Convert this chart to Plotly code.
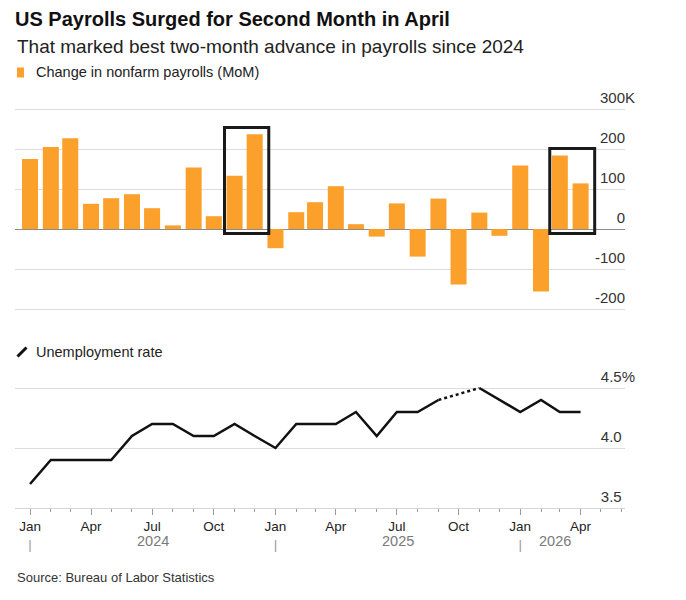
import pandas as pd
import plotly.graph_objects as go

# ---------------- data ----------------
months = pd.date_range("2024-01-01", periods=28, freq="MS")
payrolls_k = [175, 205, 227, 63, 77, 87, 52, 9, 154, 32, 133, 237,
              -48, 42, 67, 107, 12, -19, 64, -69, 76, -139, 41, -17,
              159, -156, 184, 114]
unemployment = [3.7, 3.9, 3.9, 3.9, 3.9, 4.1, 4.2, 4.2, 4.1, 4.1, 4.2, 4.1,
                4.0, 4.2, 4.2, 4.2, 4.3, 4.1, 4.3, 4.3, 4.4, None, 4.5, 4.4,
                4.3, 4.4, 4.3, 4.3]
highlight_pairs = [("2024-11-01", "2024-12-01"), ("2026-03-01", "2026-04-01")]
payroll_ticks = [-200, -100, 0, 100, 200, 300]
payroll_tick_text = ["-200", "-100", "0", "100", "200", "300"]
payroll_suffix = "K"
rate_ticks = [3.5, 4.0, 4.5]
rate_tick_text = ["3.5", "4.0", "4.5"]
rate_suffix = "%"
month_ticks = pd.date_range("2024-01-01", "2026-04-01", freq="QS")

TITLE = "US Payrolls Surged for Second Month in April"
SUBTITLE = "That marked best two-month advance in payrolls since 2024"
LEG_BARS = "Change in nonfarm payrolls (MoM)"
LEG_LINE = "Unemployment rate"
SOURCE = "Source: Bureau of Labor Statistics"

# ---------------- style ----------------
W, H = 686, 600
PAD = 3  # px of padding around the top panel so its end gridlines are drawn
ML, MR, MT, MB = 15, 61, 109 - PAD, 92
ORANGE = "#FCA02C"
FONT = "Liberation Sans, Arial, Helvetica, sans-serif"
GRID = "#dcdcdc"


def px_x(x):
    return (x - ML) / (W - ML - MR)


def px_y(y):
    return (H - MB - y) / (H - MT - MB)


def with_suffix(labels, suffix):
    out = []
    for i, t in enumerate(labels):
        if i == len(labels) - 1:
            out.append(t + suffix)
        else:
            out.append(t + "<span style='color:rgba(0,0,0,0)'>" + suffix + "</span>")
    return out


x_start = pd.Timestamp("2023-12-09 14:00")
x_end = pd.Timestamp("2026-06-06 05:00")
bar_width_ms = 23.9 * 86400000

fig = go.Figure()

fig.add_trace(go.Bar(x=months, y=payrolls_k, marker_color=ORANGE,
                     marker_line_width=0, width=bar_width_ms,
                     xaxis="x", yaxis="y", showlegend=False))

fig.add_trace(go.Scatter(x=months, y=unemployment, mode="lines",
                         line=dict(color="#111111", width=2.5),
                         connectgaps=False, xaxis="x2", yaxis="y2",
                         showlegend=False))

# dotted bridge across missing months
gap_x, gap_y = [], []
for i, v in enumerate(unemployment):
    if v is None:
        j = i - 1
        k = i + 1
        while unemployment[k] is None:
            k += 1
        gap_x += [months[j], months[k], None]
        gap_y += [unemployment[j], unemployment[k], None]
fig.add_trace(go.Scatter(x=gap_x, y=gap_y, mode="lines",
                         line=dict(color="#111111", width=2.5, dash="dot"),
                         xaxis="x2", yaxis="y2", showlegend=False))

shapes = []
vals = dict(zip(months, payrolls_k))
for a, b in highlight_pairs:
    ta, tb = pd.Timestamp(a), pd.Timestamp(b)
    top = max(vals[ta], vals[tb])
    shapes.append(dict(type="rect", xref="x", yref="y",
                       x0=ta - pd.Timedelta(days=15), x1=tb + pd.Timedelta(days=21),
                       y0=-11, y1=top + 17,
                       line=dict(color="#1a1a1a", width=3), fillcolor="rgba(0,0,0,0)"))

# legend icons
shapes.append(dict(type="rect", xref="paper", yref="paper",
                   x0=px_x(17), x1=px_x(24), y0=px_y(77.5), y1=px_y(67.5),
                   line=dict(width=0), fillcolor=ORANGE))
shapes.append(dict(type="line", xref="paper", yref="paper",
                   x0=px_x(17.5), x1=px_x(26.5), y0=px_y(356.5), y1=px_y(347.5),
                   line=dict(color="#111111", width=3)))

month_text = []
for d in month_ticks:
    lab = d.strftime("%b")
    if d.month == 1:
        lab += "<br><span style='color:#9a9a9a'>|</span>"
    month_text.append(lab)

annotations = [
    dict(text=SUBTITLE, x=0, y=px_y(46), xref="paper", yref="paper",
         xanchor="left", yanchor="middle", showarrow=False,
         font=dict(size=19, color="#222222", family=FONT)),
    dict(text=LEG_BARS, x=px_x(34), y=px_y(72), xref="paper", yref="paper",
         xanchor="left", yanchor="middle", showarrow=False,
         font=dict(size=14.5, color="#222222", family=FONT)),
    dict(text=LEG_LINE, x=px_x(34), y=px_y(352), xref="paper", yref="paper",
         xanchor="left", yanchor="middle", showarrow=False,
         font=dict(size=14.5, color="#222222", family=FONT)),
    dict(text=SOURCE, x=0, y=px_y(577), xref="paper", yref="paper",
         xanchor="left", yanchor="middle", showarrow=False,
         font=dict(size=13, color="#333333", family=FONT)),
]

# year labels centred on each year's visible span
last_edge = months[-1] + pd.Timedelta(days=15)
for yr in sorted(set(m.year for m in months)):
    s = pd.Timestamp(f"{yr}-01-01")
    e = min(pd.Timestamp(f"{yr + 1}-01-01"), last_edge)
    mid = s + (e - s) / 2
    annotations.append(dict(text=str(yr), x=mid, y=px_y(541), xref="x2", yref="paper",
                            xanchor="center", yanchor="middle", showarrow=False,
                            font=dict(size=14.5, color="#7a7a7a", family=FONT)))

# top panel: 0.4 px per thousand, gridlines 300..-200 at rows 109..309
k_per_px = 2.5
top_range = [-200 - PAD * k_per_px, 300 + PAD * k_per_px]

fig.update_layout(
    width=W, height=H,
    margin=dict(l=ML, r=MR, t=MT, b=MB),
    paper_bgcolor="white", plot_bgcolor="white",
    font=dict(family=FONT, color="#222222"),
    title=dict(text="<b>" + TITLE + "</b>", x=ML / W, xanchor="left",
               y=1 - 19 / H, yanchor="middle", yref="container",
               font=dict(size=20, color="#111111", family=FONT)),
    xaxis=dict(type="date", range=[x_start, x_end], domain=[0, 1], anchor="y",
               showticklabels=False, ticks="", showgrid=False, zeroline=False,
               showline=False, matches="x2"),
    yaxis=dict(domain=[px_y(309 + PAD), 1], range=top_range, side="right",
               tickvals=payroll_ticks, ticktext=with_suffix(payroll_tick_text, payroll_suffix),
               ticklabelposition="inside", ticklabelshift=-11, ticklabelstandoff=-13,
               ticklabeloverflow="allow", ticks="",
               showgrid=True, gridcolor=GRID, gridwidth=1,
               zeroline=True, zerolinecolor="#8c8c8c", zerolinewidth=1.3,
               tickfont=dict(size=15, color="#333333", family=FONT)),
    xaxis2=dict(type="date", range=[x_start, x_end], domain=[0, 1], anchor="y2",
                tickvals=month_ticks, ticktext=month_text,
                ticks="outside", ticklen=6, tickwidth=1, tickcolor="#999999",
                minor=dict(dtick="M1", tick0="2024-01-01", ticks="outside",
                           ticklen=3, tickwidth=1, tickcolor="#999999", showgrid=False),
                showline=True, linecolor="#d6d6d6", linewidth=1,
                showgrid=False, zeroline=False,
                tickfont=dict(size=13.5, color="#222222", family=FONT)),
    yaxis2=dict(domain=[0, px_y(382)], range=[3.5, 4.55], side="right", anchor="x2",
                tickvals=rate_ticks, ticktext=with_suffix(rate_tick_text, rate_suffix),
                ticklabelposition="inside", ticklabelshift=-11, ticklabelstandoff=-13,
                ticklabeloverflow="allow", ticks="",
                showgrid=True, gridcolor=GRID, gridwidth=1, zeroline=False,
                tickfont=dict(size=15, color="#333333", family=FONT)),
    shapes=shapes,
    annotations=annotations,
)

fig.write_html("out.html")
